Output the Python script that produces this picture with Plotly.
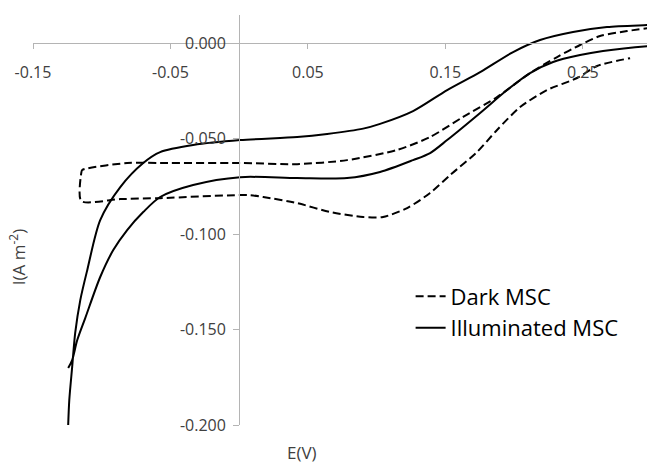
import plotly.graph_objects as go

# Dark MSC (dashed) cyclic voltammogram: E (V), I (A m^-2)
dark_E = [0.300, 0.2822, 0.2625, 0.2480, 0.2313, 0.2116, 0.1876, 0.1629, 0.1389, 0.1149, 0.0785,
          0.0422, 0.0007, -0.0575, -0.0815, -0.1142, -0.1149, -0.1149,
          -0.0865, -0.0575, 0.0065, 0.0175, 0.0422, 0.0662, 0.0902, 0.1047, 0.1222, 0.1389,
          0.1535, 0.1731, 0.1876, 0.2044, 0.2240, 0.2458, 0.2604, 0.2844]
dark_I = [0.0080, 0.0063, 0.0037, -0.0010, -0.0073, -0.0157, -0.0283, -0.0387, -0.0492, -0.0560, -0.0613,
          -0.0634, -0.0628, -0.0628, -0.0628, -0.0665, -0.0681, -0.0827,
          -0.0817, -0.0812, -0.0796, -0.0806, -0.0838, -0.0885, -0.0911, -0.0911, -0.0864, -0.0785,
          -0.0691, -0.0570, -0.0455, -0.0335, -0.0246, -0.0183, -0.0120, -0.0079]

# Illuminated MSC (solid)
ill_E = [-0.1244, -0.1215, -0.1178, -0.1120, -0.1011, -0.0916, -0.0815, -0.0698, -0.0575, -0.0335,
         0.0007, 0.0422, 0.0785, 0.1025, 0.1265, 0.1389, 0.1513, 0.1753, 0.1949, 0.2116, 0.2284,
         0.2480, 0.2647, 0.2967, 0.310,
         0.310, 0.2967, 0.2676, 0.2429, 0.2189, 0.1993, 0.1753, 0.1513, 0.1265, 0.1025, 0.0902,
         0.0640, 0.0422, 0.0007, -0.0335, -0.0575, -0.0698, -0.0865, -0.1011, -0.1105, -0.1156,
         -0.1193, -0.1215, -0.1236, -0.1244]
ill_I = [-0.1702, -0.1660, -0.1555, -0.1440, -0.1225, -0.1084, -0.0979, -0.0885, -0.0806, -0.0743,
         -0.0702, -0.0707, -0.0707, -0.0675, -0.0613, -0.0576, -0.0508, -0.0366, -0.0246, -0.0157, -0.0099,
         -0.0063, -0.0042, -0.0016, -0.0010,
         0.0098, 0.0094, 0.0084, 0.0058, 0.0016, -0.0047, -0.0152, -0.0246, -0.0356, -0.0423, -0.0448,
         -0.0476, -0.0492, -0.0508, -0.0534, -0.0571, -0.0628, -0.0754, -0.0927, -0.1188, -0.1346,
         -0.1518, -0.1696, -0.1869, -0.2000]

x_range = [-0.15, 0.2967]
y_range = [-0.200, 0.0147]
x_tickvals = [-0.15, -0.05, 0.05, 0.15, 0.25]
y_tickvals = [-0.200, -0.150, -0.100, -0.050, 0.000]
x_ticktext = ["-0.15", "-0.05", "0.05", "0.15", "0.25"]
y_ticktext = ["-0.200", "-0.150", "-0.100", "-0.050", "0.000"]

fig = go.Figure()
fig.add_trace(go.Scatter(x=dark_E, y=dark_I, mode="lines", name="Dark MSC",
                         line=dict(color="black", width=2, dash="8px,4px", shape="spline", smoothing=0.7)))
fig.add_trace(go.Scatter(x=ill_E, y=ill_I, mode="lines", name="Illuminated MSC",
                         line=dict(color="black", width=2, shape="spline", smoothing=0.8)))

font = "Open Sans"
axis_col = "#B4B4B4"
tick_col = "#404040"

xpos = (0 - y_range[0]) / (y_range[1] - y_range[0])
ypos = (0 - x_range[0]) / (x_range[1] - x_range[0])

fig.update_layout(
    width=647, height=464,
    margin=dict(l=33, r=0, t=15, b=39),
    paper_bgcolor="white", plot_bgcolor="white",
    font=dict(family=font, color=tick_col, size=16),
    showlegend=True,
    legend=dict(x=0.615, y=0.365, xanchor="left", yanchor="top",
                font=dict(family=font, size=22, color="black"),
                bgcolor="rgba(0,0,0,0)"),
    xaxis=dict(range=x_range, tickmode="array", tickvals=x_tickvals, ticktext=x_ticktext,
               showgrid=False, zeroline=False, showline=True, linecolor=axis_col, linewidth=1.3,
               ticks="outside", ticklen=5, tickcolor=axis_col, anchor="free", position=xpos,
               ticklabelstandoff=10, tickfont=dict(size=16, color=tick_col)),
    yaxis=dict(range=y_range, tickmode="array", tickvals=y_tickvals, ticktext=y_ticktext,
               showgrid=False, zeroline=False, showline=True, linecolor=axis_col, linewidth=1.3,
               ticks="outside", ticklen=6, tickcolor=axis_col, anchor="free", position=ypos,
               ticklabelstandoff=4, tickfont=dict(size=16, color=tick_col)),
    annotations=[
        dict(text="I(A m<sup>-2</sup>)", xref="paper", yref="paper", x=-0.024, y=0.41,
             xanchor="center", yanchor="middle",
             showarrow=False, textangle=-90, font=dict(family=font, size=17, color=tick_col)),
        dict(text="E(V)", xref="paper", yref="paper", x=0.438, y=-0.068, yanchor="middle",
             showarrow=False, font=dict(family=font, size=17, color=tick_col)),
    ],
)

fig.write_html("out.html")
